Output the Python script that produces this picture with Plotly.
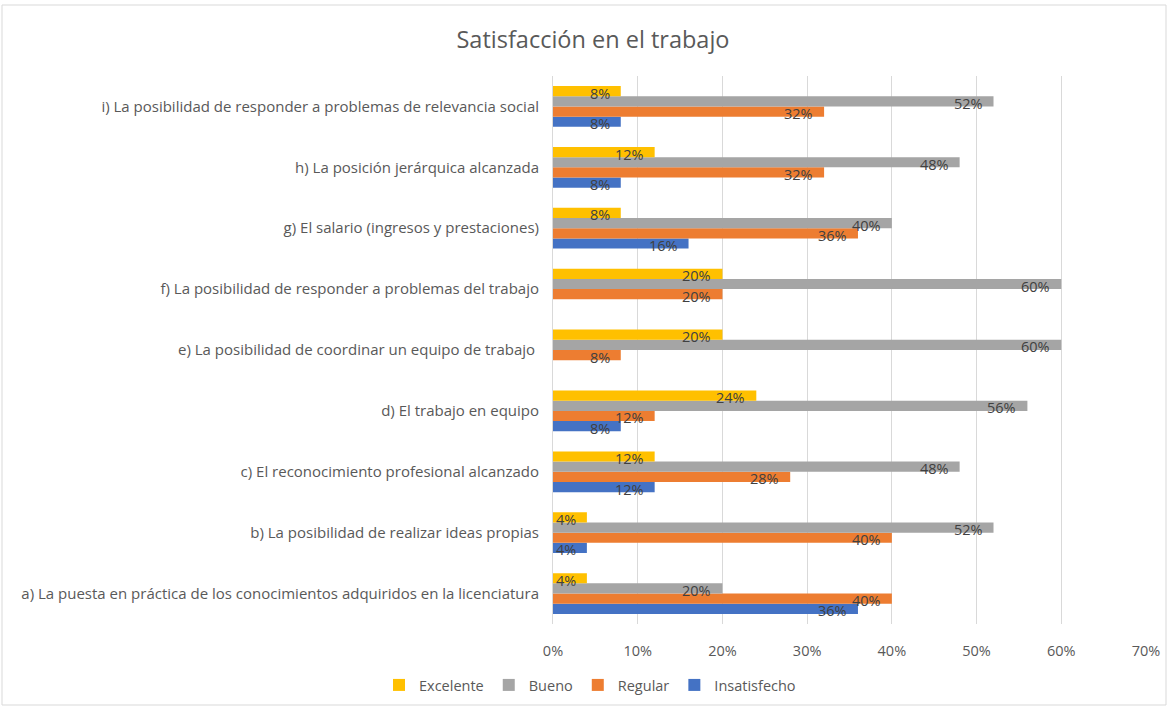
import plotly.graph_objects as go

categories = [
    "a) La puesta en práctica de los conocimientos adquiridos en la licenciatura",
    "b) La posibilidad de realizar ideas propias",
    "c) El reconocimiento profesional alcanzado",
    "d) El trabajo en equipo",
    "e) La posibilidad de coordinar un equipo de trabajo ",
    "f) La posibilidad de responder a problemas del trabajo",
    "g) El salario (ingresos y prestaciones)",
    "h) La posición jerárquica alcanzada",
    "i) La posibilidad de responder a problemas de relevancia social",
]

# percentages per category (a .. i)
insatisfecho = [36, 4, 12, 8, None, None, 16, 8, 8]
regular = [40, 40, 28, 12, 8, 20, 36, 32, 32]
bueno = [20, 52, 48, 56, 60, 60, 40, 48, 52]
excelente = [4, 4, 12, 24, 20, 20, 8, 12, 8]

tick_vals = [0, 10, 20, 30, 40, 50, 60, 70]
tick_text = ["0%", "10%", "20%", "30%", "40%", "50%", "60%", "70%"]

# drawn bottom-to-top inside each group
series = [
    ("Insatisfecho", insatisfecho, "#4472C4"),
    ("Regular", regular, "#ED7D31"),
    ("Bueno", bueno, "#A5A5A5"),
    ("Excelente", excelente, "#FFC000"),
]

FONT = "Open Sans"
TXT = "#595959"
W, H = 1169, 709

fig = go.Figure()
ypos = list(range(len(categories)))
for name, vals, color in series:
    fig.add_trace(go.Bar(
        y=ypos, x=vals, name=name, orientation="h",
        marker=dict(color=color, line=dict(width=0)),
    ))

# value labels near the inner end of each bar
plot_top, plot_bottom = 76, 624
cat_px = (plot_bottom - plot_top) / len(categories)
bargap = 0.33
bar_px = cat_px * (1 - bargap) / 4
shifts = [-1.5 * bar_px, -0.5 * bar_px, 0.5 * bar_px, 1.5 * bar_px]
annotations = []
for (name, vals, color), dy in zip(series, shifts):
    for i, v in enumerate(vals):
        if v is None:
            continue
        annotations.append(dict(
            x=v, y=i, xref="x", yref="y", text=f"{v}%", showarrow=False,
            xanchor="right", yanchor="middle", xshift=-9, yshift=dy - 2,
            font=dict(family=FONT, size=14.5, color="#404040"),
        ))

fig.update_layout(
    template="none",
    width=W, height=H,
    margin=dict(l=0, r=0, t=0, b=0, pad=0, autoexpand=False),
    paper_bgcolor="white", plot_bgcolor="white",
    barmode="group", bargap=bargap, bargroupgap=0,
    title=dict(text="Satisfacción en el trabajo", x=593 / W, xanchor="center",
               y=1 - 40 / H, yanchor="middle",
               font=dict(family=FONT, size=23.5, color=TXT)),
    xaxis=dict(domain=[553 / W, 1146 / W], range=[0, 70], automargin=False,
               tickvals=tick_vals, ticktext=tick_text, ticks="",
               showgrid=True, gridcolor="#D9D9D9", gridwidth=1,
               zeroline=False, showline=False, ticklabelstandoff=16,
               tickfont=dict(family=FONT, size=14.5, color=TXT)),
    yaxis=dict(domain=[1 - plot_bottom / H, 1 - plot_top / H], range=[-0.5, 8.5],
               automargin=False, tickvals=ypos, ticktext=categories,
               showgrid=False, zeroline=False, showline=True,
               linecolor="#D9D9D9", linewidth=1,
               ticks="", ticklabelstandoff=10,
               tickfont=dict(family=FONT, size=15, color=TXT)),
    legend=dict(orientation="h", x=590 / W, xanchor="center",
                y=1 - 685 / H, yanchor="middle", traceorder="reversed",
                itemwidth=30,
                font=dict(family=FONT, size=14.5, color=TXT)),
    annotations=annotations,
    shapes=[dict(type="rect", xref="paper", yref="paper",
                 x0=2 / W, x1=1166 / W, y0=1 - 705 / H, y1=1 - 5 / H,
                 line=dict(color="#D9D9D9", width=1), layer="below")],
)

fig.write_html("out.html")
